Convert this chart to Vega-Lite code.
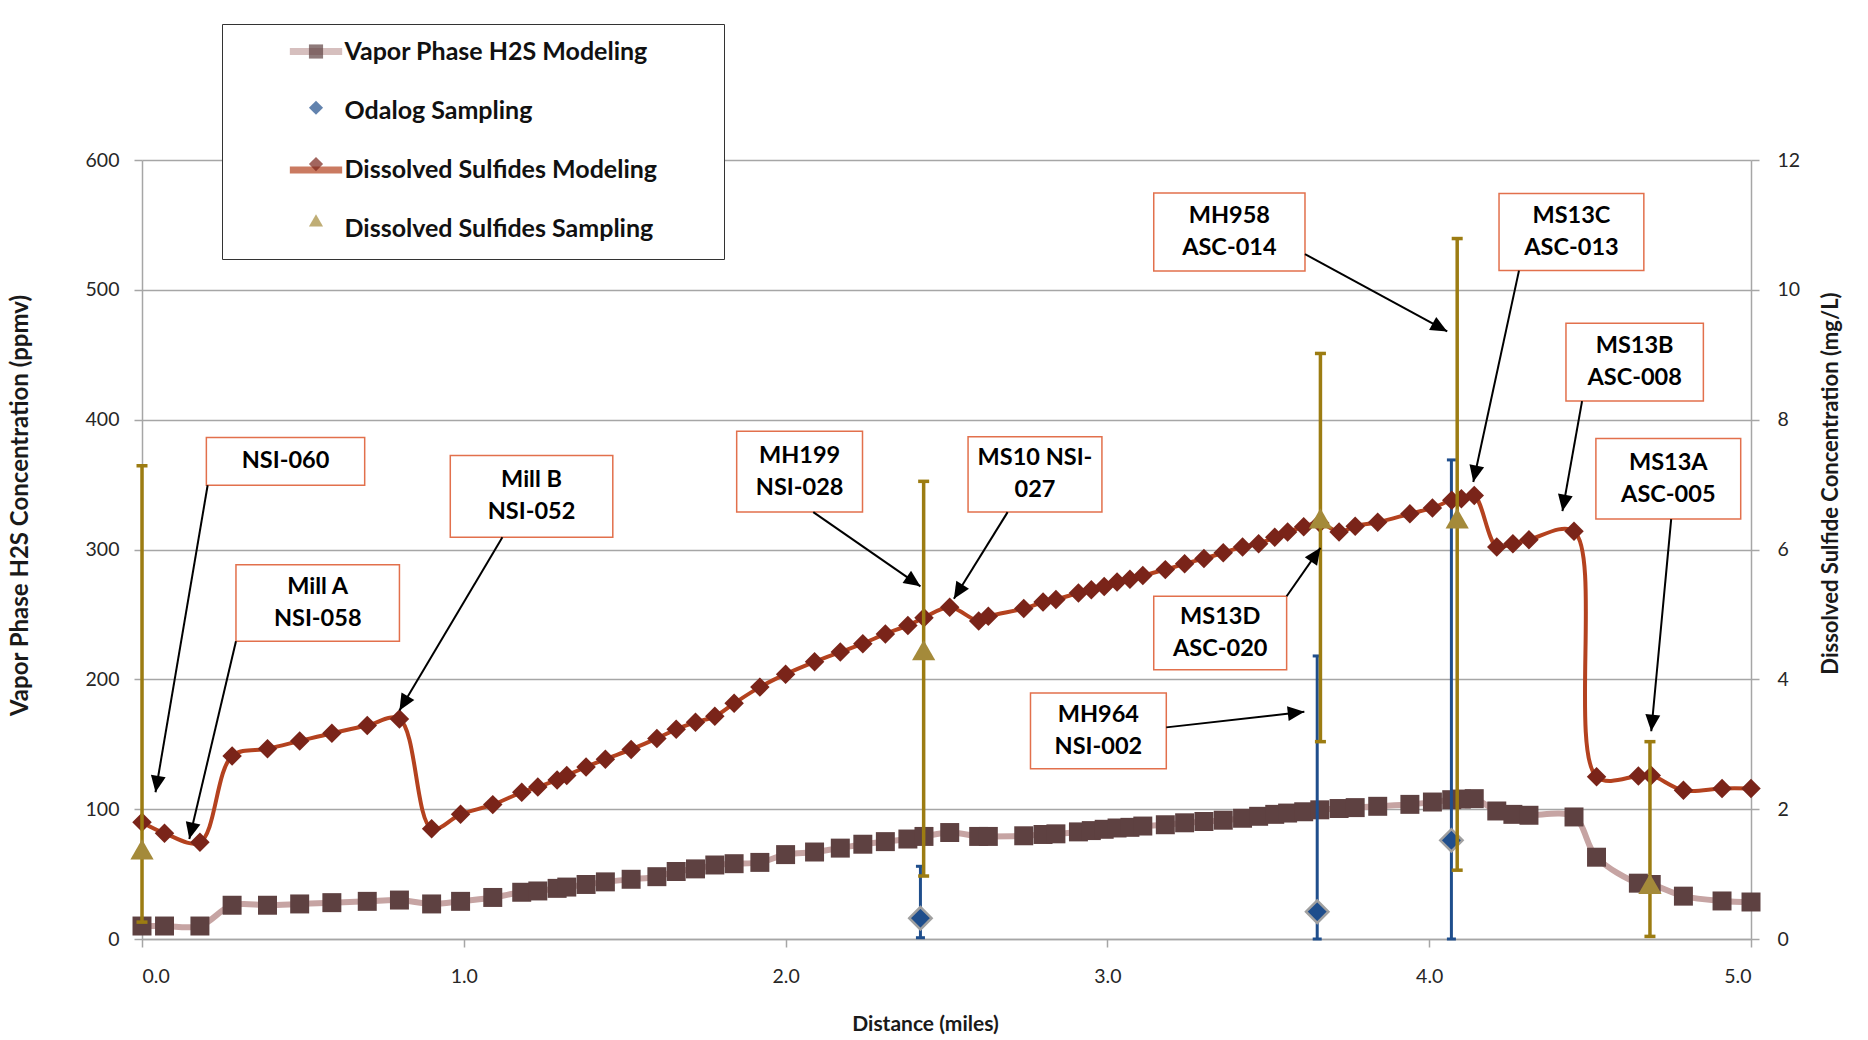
{
  "$schema": "https://vega.github.io/schema/vega-lite/v6.json",
  "width": 1609,
  "height": 779,
  "autosize": {"type": "none"},
  "padding": {"left": 142, "top": 160, "right": 117, "bottom": 101},
  "background": "white",
  "config": {
    "font": "Lato",
    "view": {"stroke": null},
    "axis": {
      "labelFont": "Lato", "labelFontSize": 19.5, "labelColor": "#262626",
      "titleFont": "Lato", "titleFontWeight": "bold", "titleColor": "#1a1a1a",
      "domainColor": "#A6A6A6", "domainWidth": 1.5,
      "tickColor": "#A6A6A6", "tickWidth": 1.5, "tickSize": 8,
      "gridColor": "#A6A6A6", "gridWidth": 1.3
    },
    "legend": {
      "orient": "none", "legendX": 80, "legendY": -136, "padding": 15, "rowPadding": 30.3,
      "labelFont": "Lato", "labelFontSize": 25, "labelFontWeight": "bold", "labelColor": "#111111",
      "labelLimit": 1000, "columns": 1, "title": null,
      "symbolSize": 200, "symbolOffset": 66.5, "labelOffset": 16
    }
  },
  "datasets": {
    "model": [
      {"d": 0.00, "vapor": 10, "dsm": 1.80},
      {"d": 0.07, "vapor": 10, "dsm": 1.63},
      {"d": 0.18, "vapor": 10, "dsm": 1.49},
      {"d": 0.28, "vapor": 26, "dsm": 2.82},
      {"d": 0.39, "vapor": 26, "dsm": 2.93},
      {"d": 0.49, "vapor": 27, "dsm": 3.05},
      {"d": 0.59, "vapor": 28, "dsm": 3.17},
      {"d": 0.70, "vapor": 29, "dsm": 3.29},
      {"d": 0.80, "vapor": 30, "dsm": 3.39},
      {"d": 0.90, "vapor": 27, "dsm": 1.70},
      {"d": 0.99, "vapor": 29, "dsm": 1.92},
      {"d": 1.09, "vapor": 32, "dsm": 2.07},
      {"d": 1.18, "vapor": 36, "dsm": 2.26},
      {"d": 1.23, "vapor": 37, "dsm": 2.34},
      {"d": 1.29, "vapor": 39, "dsm": 2.45},
      {"d": 1.32, "vapor": 40, "dsm": 2.52},
      {"d": 1.38, "vapor": 42, "dsm": 2.65},
      {"d": 1.44, "vapor": 44, "dsm": 2.77},
      {"d": 1.52, "vapor": 46, "dsm": 2.92},
      {"d": 1.60, "vapor": 48, "dsm": 3.09},
      {"d": 1.66, "vapor": 52, "dsm": 3.23},
      {"d": 1.72, "vapor": 54, "dsm": 3.34},
      {"d": 1.78, "vapor": 57, "dsm": 3.43},
      {"d": 1.84, "vapor": 58, "dsm": 3.63},
      {"d": 1.92, "vapor": 59, "dsm": 3.88},
      {"d": 2.00, "vapor": 65, "dsm": 4.08},
      {"d": 2.09, "vapor": 67, "dsm": 4.27},
      {"d": 2.17, "vapor": 70, "dsm": 4.42},
      {"d": 2.24, "vapor": 73, "dsm": 4.55},
      {"d": 2.31, "vapor": 75, "dsm": 4.70},
      {"d": 2.38, "vapor": 77, "dsm": 4.83},
      {"d": 2.43, "vapor": 79, "dsm": 4.95},
      {"d": 2.51, "vapor": 82, "dsm": 5.11},
      {"d": 2.60, "vapor": 79, "dsm": 4.90},
      {"d": 2.63, "vapor": 79, "dsm": 4.97},
      {"d": 2.74, "vapor": 79.5, "dsm": 5.09},
      {"d": 2.80, "vapor": 80.5, "dsm": 5.19},
      {"d": 2.84, "vapor": 81, "dsm": 5.23},
      {"d": 2.91, "vapor": 82.5, "dsm": 5.33},
      {"d": 2.95, "vapor": 83.5, "dsm": 5.38},
      {"d": 2.99, "vapor": 84.5, "dsm": 5.43},
      {"d": 3.03, "vapor": 85.5, "dsm": 5.50},
      {"d": 3.07, "vapor": 86, "dsm": 5.54},
      {"d": 3.11, "vapor": 87, "dsm": 5.60},
      {"d": 3.18, "vapor": 88, "dsm": 5.69},
      {"d": 3.24, "vapor": 89.5, "dsm": 5.78},
      {"d": 3.30, "vapor": 90.5, "dsm": 5.86},
      {"d": 3.36, "vapor": 91.5, "dsm": 5.95},
      {"d": 3.42, "vapor": 93, "dsm": 6.04},
      {"d": 3.47, "vapor": 94.5, "dsm": 6.09},
      {"d": 3.52, "vapor": 96, "dsm": 6.19},
      {"d": 3.56, "vapor": 97, "dsm": 6.27},
      {"d": 3.61, "vapor": 98, "dsm": 6.35},
      {"d": 3.66, "vapor": 99.5, "dsm": 6.41},
      {"d": 3.72, "vapor": 100.5, "dsm": 6.27},
      {"d": 3.77, "vapor": 101.2, "dsm": 6.36},
      {"d": 3.84, "vapor": 102.2, "dsm": 6.42},
      {"d": 3.94, "vapor": 103.7, "dsm": 6.55},
      {"d": 4.01, "vapor": 105.5, "dsm": 6.64},
      {"d": 4.07, "vapor": 107.3, "dsm": 6.76},
      {"d": 4.10, "vapor": 107.8, "dsm": 6.78},
      {"d": 4.14, "vapor": 108.1, "dsm": 6.83},
      {"d": 4.21, "vapor": 98.6, "dsm": 6.04},
      {"d": 4.26, "vapor": 96, "dsm": 6.09},
      {"d": 4.31, "vapor": 95.3, "dsm": 6.15},
      {"d": 4.45, "vapor": 94, "dsm": 6.28},
      {"d": 4.52, "vapor": 63, "dsm": 2.50},
      {"d": 4.65, "vapor": 43, "dsm": 2.51},
      {"d": 4.69, "vapor": 42, "dsm": 2.52},
      {"d": 4.79, "vapor": 33, "dsm": 2.29},
      {"d": 4.91, "vapor": 29.3, "dsm": 2.32},
      {"d": 5.00, "vapor": 28.5, "dsm": 2.32}
    ],
    "odalog": [
      {"d": 2.419, "v": 16, "lo": 1, "hi": 56},
      {"d": 3.652, "v": 21, "lo": 0, "hi": 218},
      {"d": 4.069, "v": 76, "lo": 0, "hi": 369}
    ],
    "dss": [
      {"d": 0.0, "v": 1.38, "lo": 0.26, "hi": 7.29},
      {"d": 2.429, "v": 4.45, "lo": 0.97, "hi": 7.05},
      {"d": 3.662, "v": 6.48, "lo": 3.04, "hi": 9.02},
      {"d": 4.087, "v": 6.48, "lo": 1.06, "hi": 10.79},
      {"d": 4.686, "v": 0.85, "lo": 0.04, "hi": 3.04}
    ],
    "notes": [
      {"label": "NSI-060", "bx1": 0.200, "bx2": 0.692, "by1": 349.5, "by2": 386.2, "ax1": 0.204, "ay1": 349.5, "ax2": 0.042, "ay2": 113},
      {"label": "Mill A\nNSI-058", "bx1": 0.292, "bx2": 0.800, "by1": 229.3, "by2": 288.3, "ax1": 0.292, "ay1": 229.3, "ax2": 0.147, "ay2": 77},
      {"label": "Mill B\nNSI-052", "bx1": 0.958, "bx2": 1.463, "by1": 309.5, "by2": 372.4, "ax1": 1.120, "ay1": 309.5, "ax2": 0.800, "ay2": 176},
      {"label": "MH199\nNSI-028", "bx1": 1.848, "bx2": 2.239, "by1": 328.8, "by2": 391.0, "ax1": 2.086, "ay1": 328.8, "ax2": 2.419, "ay2": 271.6},
      {"label": "MS10 NSI-\n027", "bx1": 2.567, "bx2": 2.983, "by1": 328.8, "by2": 386.8, "ax1": 2.690, "ay1": 328.8, "ax2": 2.523, "ay2": 262},
      {"label": "MH958\nASC-014", "bx1": 3.144, "bx2": 3.614, "by1": 514.6, "by2": 574.5, "ax1": 3.614, "ay1": 527.5, "ax2": 4.056, "ay2": 468},
      {"label": "MS13C\nASC-013", "bx1": 4.217, "bx2": 4.667, "by1": 514.8, "by2": 574.2, "ax1": 4.279, "ay1": 514.8, "ax2": 4.137, "ay2": 352},
      {"label": "MS13B\nASC-008", "bx1": 4.425, "bx2": 4.852, "by1": 414.3, "by2": 474.2, "ax1": 4.475, "ay1": 414.3, "ax2": 4.414, "ay2": 329.5},
      {"label": "MS13A\nASC-005", "bx1": 4.518, "bx2": 4.968, "by1": 323.4, "by2": 385.5, "ax1": 4.752, "ay1": 323.4, "ax2": 4.690, "ay2": 160},
      {"label": "MS13D\nASC-020", "bx1": 3.144, "bx2": 3.557, "by1": 207.3, "by2": 264.0, "ax1": 3.557, "ay1": 264.0, "ax2": 3.662, "ay2": 301.3},
      {"label": "MH964\nNSI-002", "bx1": 2.761, "bx2": 3.183, "by1": 131.2, "by2": 189.4, "ax1": 3.183, "ay1": 163, "ax2": 3.612, "ay2": 175}
    ]
  },
  "layer": [
    {
      "layer": [
        {
          "data": {"name": "model"},
          "mark": {"type": "line", "interpolate": "catmull-rom", "strokeWidth": 6, "color": "#C6A4A3"},
          "encoding": {
            "x": {"field": "d", "type": "quantitative", "scale": {"domain": [0, 5], "nice": false, "zero": false},
                  "axis": {"values": [0, 1, 2, 3, 4, 5], "format": ".1f", "title": "Distance (miles)", "titleFontSize": 21, "labelPadding": 20, "titlePadding": 28, "titleX": 783, "grid": false}},
            "y": {"field": "vapor", "type": "quantitative", "scale": {"domain": [0, 600], "nice": false},
                  "axis": {"orient": "left", "values": [0, 100, 200, 300, 400, 500, 600], "format": "d", "grid": true, "title": "Vapor Phase H2S Concentration (ppmv)", "titleFontSize": 24, "labelPadding": 15, "titlePadding": 53, "titleY": 345}}
          }
        },
        {
          "data": {"name": "model"},
          "mark": {"type": "point", "shape": "square", "filled": true, "size": 360, "opacity": 1, "color": "#5E4141"},
          "encoding": {
            "x": {"field": "d", "type": "quantitative"},
            "y": {"field": "vapor", "type": "quantitative"}
          }
        },
        {
          "data": {"name": "odalog"},
          "mark": {"type": "rule", "color": "#1F4E8C", "strokeWidth": 3},
          "encoding": {
            "x": {"field": "d", "type": "quantitative"},
            "y": {"field": "lo", "type": "quantitative"},
            "y2": {"field": "hi"}
          }
        },
        {
          "data": {"name": "odalog"},
          "mark": {"type": "tick", "orient": "horizontal", "color": "#1F4E8C", "thickness": 3, "size": 9, "opacity": 1},
          "encoding": {
            "x": {"field": "d", "type": "quantitative"},
            "y": {"field": "lo", "type": "quantitative"}
          }
        },
        {
          "data": {"name": "odalog"},
          "mark": {"type": "tick", "orient": "horizontal", "color": "#1F4E8C", "thickness": 3, "size": 9, "opacity": 1},
          "encoding": {
            "x": {"field": "d", "type": "quantitative"},
            "y": {"field": "hi", "type": "quantitative"}
          }
        },
        {
          "data": {"name": "odalog"},
          "mark": {"type": "point", "shape": "diamond", "filled": true, "size": 500, "opacity": 1, "fill": "#1F4E8C", "stroke": "#A0A0A0", "strokeWidth": 2.5},
          "encoding": {
            "x": {"field": "d", "type": "quantitative"},
            "y": {"field": "v", "type": "quantitative"}
          }
        }
      ]
    },
    {
      "layer": [
        {
          "data": {"name": "model"},
          "mark": {"type": "line", "interpolate": "catmull-rom", "strokeWidth": 4, "color": "#B4421F"},
          "encoding": {
            "x": {"field": "d", "type": "quantitative"},
            "y": {"field": "dsm", "type": "quantitative", "scale": {"domain": [0, 12], "nice": false},
                  "axis": {"orient": "right", "values": [0, 2, 4, 6, 8, 10, 12], "format": "d", "grid": false, "title": "Dissolved Sulfide Concentration (mg/L)", "titleFontSize": 22, "titleAngle": 270, "labelPadding": 18, "titlePadding": 43, "titleY": 323}}
          }
        },
        {
          "data": {"name": "model"},
          "mark": {"type": "point", "shape": "diamond", "filled": true, "size": 380, "opacity": 1, "color": "#7A2419"},
          "encoding": {
            "x": {"field": "d", "type": "quantitative"},
            "y": {"field": "dsm", "type": "quantitative"}
          }
        },
        {
          "data": {"name": "dss"},
          "mark": {"type": "rule", "color": "#9C7C12", "strokeWidth": 3.5},
          "encoding": {
            "x": {"field": "d", "type": "quantitative"},
            "y": {"field": "lo", "type": "quantitative"},
            "y2": {"field": "hi"}
          }
        },
        {
          "data": {"name": "dss"},
          "mark": {"type": "tick", "orient": "horizontal", "color": "#9C7C12", "thickness": 3.5, "size": 11, "opacity": 1},
          "encoding": {
            "x": {"field": "d", "type": "quantitative"},
            "y": {"field": "lo", "type": "quantitative"}
          }
        },
        {
          "data": {"name": "dss"},
          "mark": {"type": "tick", "orient": "horizontal", "color": "#9C7C12", "thickness": 3.5, "size": 11, "opacity": 1},
          "encoding": {
            "x": {"field": "d", "type": "quantitative"},
            "y": {"field": "hi", "type": "quantitative"}
          }
        },
        {
          "data": {"name": "dss"},
          "mark": {"type": "point", "shape": "triangle-up", "filled": true, "size": 540, "opacity": 1, "color": "#A48A3A"},
          "encoding": {
            "x": {"field": "d", "type": "quantitative"},
            "y": {"field": "v", "type": "quantitative"}
          }
        }
      ]
    },
    {
      "data": {"name": "notes"},
      "transform": [
        {"calculate": "(datum.bx1 + datum.bx2) / 2", "as": "cx"},
        {"calculate": "(datum.by1 + datum.by2) / 2", "as": "cy"},
        {"calculate": "atan2((datum.ax2 - datum.ax1) * 321.8, (datum.ay2 - datum.ay1) * 1.2983) * 180 / PI", "as": "ang"},
        {"calculate": "indexof(datum.label, '\\n') >= 0 ? 2 : 1", "as": "nlines"}
      ],
      "layer": [
        {
          "mark": {"type": "rect", "fill": "white", "stroke": "#E2704C", "strokeWidth": 1.5},
          "encoding": {
            "x": {"field": "bx1", "type": "quantitative"},
            "x2": {"field": "bx2"},
            "y": {"field": "by1", "type": "quantitative", "scale": {"domain": [0, 600], "nice": false}, "axis": null},
            "y2": {"field": "by2"}
          }
        },
        {
          "transform": [{"filter": "datum.nlines == 2"}],
          "mark": {"type": "text", "font": "Lato", "fontWeight": "bold", "fontSize": 23.5, "lineBreak": "\n", "lineHeight": 32, "dy": -16, "align": "center", "baseline": "middle", "color": "#000000"},
          "encoding": {
            "x": {"field": "cx", "type": "quantitative"},
            "y": {"field": "cy", "type": "quantitative", "axis": null},
            "text": {"field": "label"}
          }
        },
        {
          "transform": [{"filter": "datum.nlines == 1"}],
          "mark": {"type": "text", "font": "Lato", "fontWeight": "bold", "fontSize": 23.5, "align": "center", "baseline": "middle", "color": "#000000"},
          "encoding": {
            "x": {"field": "cx", "type": "quantitative"},
            "y": {"field": "cy", "type": "quantitative", "axis": null},
            "text": {"field": "label"}
          }
        },
        {
          "mark": {"type": "rule", "color": "#000000", "strokeWidth": 2},
          "encoding": {
            "x": {"field": "ax1", "type": "quantitative"},
            "y": {"field": "ay1", "type": "quantitative", "axis": null},
            "x2": {"field": "ax2"},
            "y2": {"field": "ay2"}
          }
        },
        {
          "mark": {"type": "point", "filled": true, "shape": "M0,0 L0.45,1 L-0.45,1 Z", "size": 1100, "color": "#000000", "opacity": 1},
          "encoding": {
            "x": {"field": "ax2", "type": "quantitative"},
            "y": {"field": "ay2", "type": "quantitative", "axis": null},
            "angle": {"field": "ang", "type": "quantitative", "scale": null}
          }
        },
        {
          "transform": [{"filter": "false"}],
          "mark": {"type": "point", "filled": false},
          "encoding": {
            "color": {"datum": "v", "type": "nominal",
                      "scale": {"domain": ["v", "o", "d", "s"], "range": ["#C6A4A3", "transparent", "#B4421F", "transparent"]},
                      "legend": {"symbolType": "M-3.7,0 L3.7,0", "symbolStrokeWidth": 7, "fillColor": "white", "strokeColor": "#333333",
                                 "title": "Dissolved Sulfides Sampling Dissolved Sulfides Sampling", "titleOrient": "right", "titleLimit": 50, "titlePadding": 6, "titleFontSize": 10, "titleColor": "transparent",
                                 "labelExpr": "datum.label == 'v' ? 'Vapor Phase H2S Modeling' : datum.label == 'o' ? 'Odalog Sampling' : datum.label == 'd' ? 'Dissolved Sulfides Modeling' : 'Dissolved Sulfides Sampling'"}}
          }
        },
        {
          "transform": [{"filter": "false"}],
          "mark": {"type": "point", "filled": true},
          "encoding": {
            "fill": {"datum": "Vapor Phase H2S Modeling", "type": "nominal",
                     "scale": {"domain": ["Vapor Phase H2S Modeling", "Odalog Sampling", "Dissolved Sulfides Modeling", "Dissolved Sulfides Sampling"],
                               "range": ["#5E4141", "#1F4E8C", "#7A2419", "#A48A3A"]},
                     "legend": {"labelOpacity": 0, "labelExpr": "' '", "symbolStrokeWidth": 0, "fillColor": null, "strokeColor": null}},
            "shape": {"datum": "Vapor Phase H2S Modeling", "type": "nominal",
                      "scale": {"domain": ["Vapor Phase H2S Modeling", "Odalog Sampling", "Dissolved Sulfides Modeling", "Dissolved Sulfides Sampling"],
                                "range": ["square", "diamond", "diamond", "triangle-up"]},
                      "legend": {"labelOpacity": 0, "labelExpr": "' '", "symbolStrokeWidth": 0, "fillColor": null, "strokeColor": null}}
          }
        }
      ]
    }
  ],
  "resolve": {"scale": {"y": "independent"}}
}
